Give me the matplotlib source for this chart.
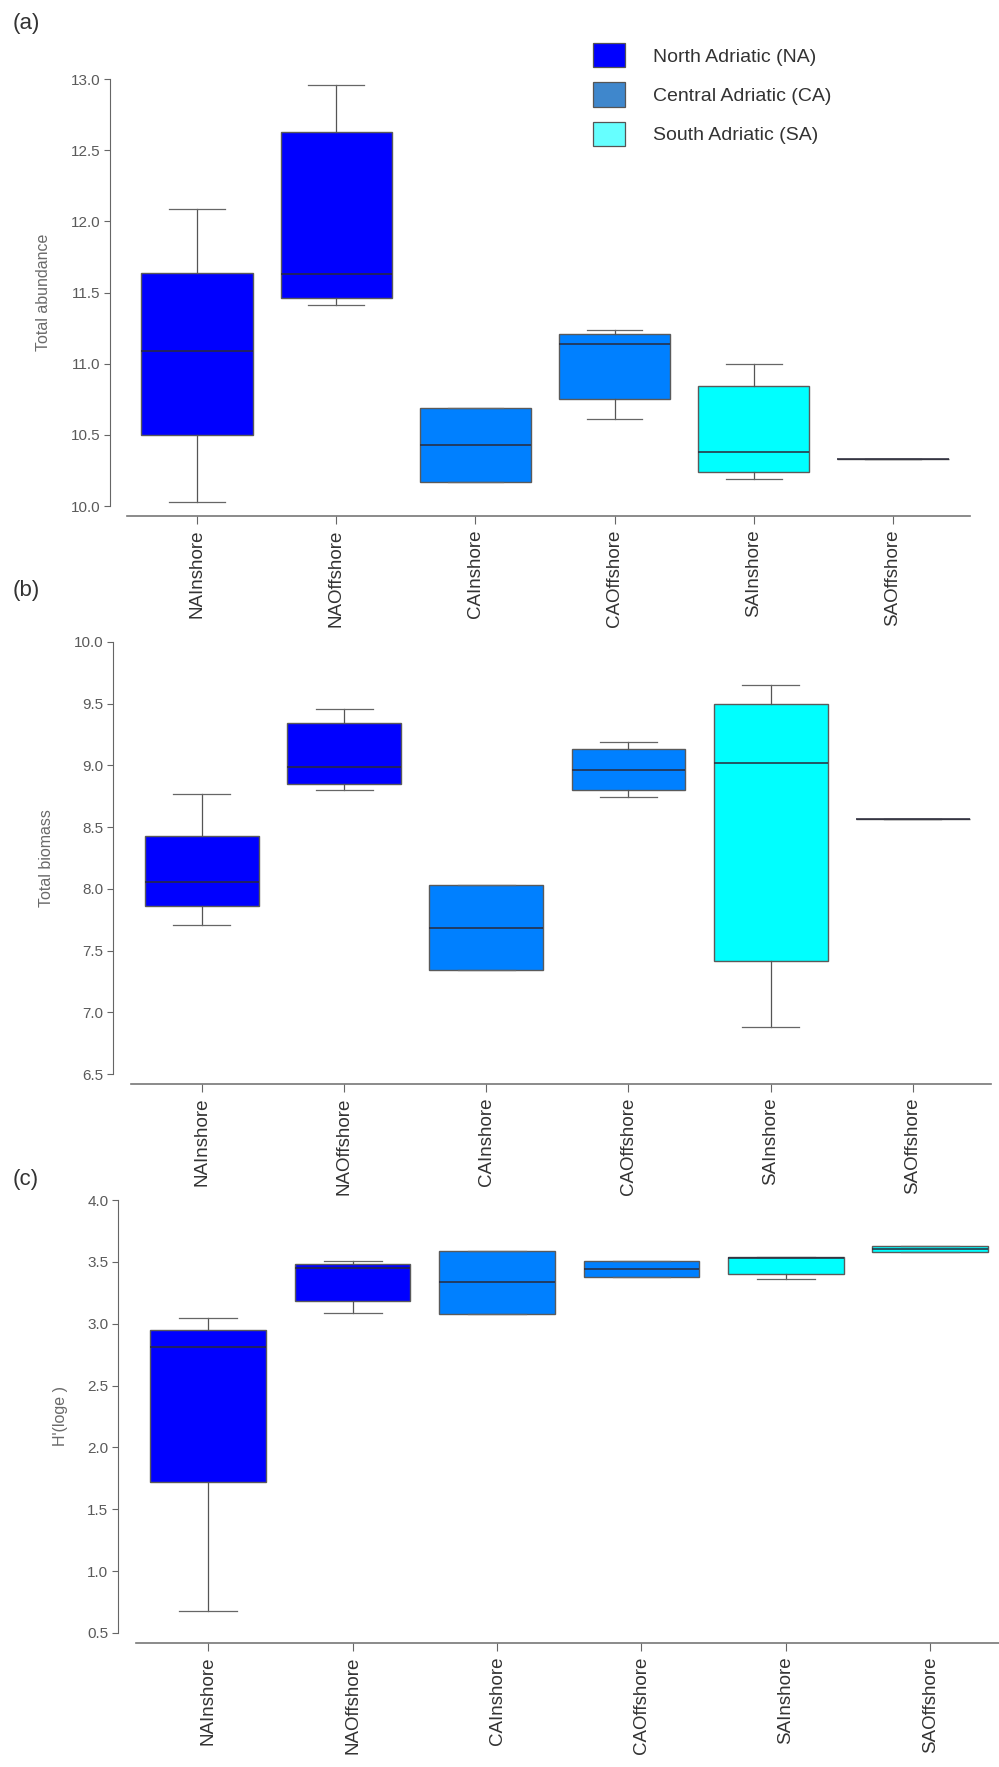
import numpy as np
import matplotlib
matplotlib.use("Agg")
import matplotlib.pyplot as plt
from matplotlib.patches import Patch

plt.rcParams['font.family'] = ['Liberation Sans', 'DejaVu Sans']

sites = ['NAInshore', 'NAOffshore', 'CAInshore', 'CAOffshore', 'SAInshore', 'SAOffshore']
box_colors = ['#0000ff', '#0000ff', '#0080ff', '#0080ff', '#00ffff', '#00ffff']

# values: whisker low, q1, median, q3, whisker high
abund_lo  = [10.03, 11.41, 10.17, 10.61, 10.19, 10.33]
abund_q1  = [10.50, 11.46, 10.17, 10.75, 10.24, 10.33]
abund_med = [11.09, 11.63, 10.43, 11.14, 10.38, 10.33]
abund_q3  = [11.64, 12.63, 10.69, 11.21, 10.84, 10.33]
abund_hi  = [12.09, 12.96, 10.69, 11.24, 11.00, 10.33]

biom_lo  = [7.71, 8.80, 7.34, 8.745, 6.88, 8.57]
biom_q1  = [7.86, 8.85, 7.34, 8.80, 7.415, 8.57]
biom_med = [8.055, 8.99, 7.685, 8.96, 9.02, 8.57]
biom_q3  = [8.43, 9.34, 8.03, 9.13, 9.495, 8.57]
biom_hi  = [8.77, 9.46, 8.03, 9.19, 9.65, 8.57]

div_lo  = [0.68, 3.09, 3.076, 3.38, 3.36, 3.582]
div_q1  = [1.72, 3.18, 3.076, 3.38, 3.404, 3.582]
div_med = [2.81, 3.448, 3.335, 3.44, 3.535, 3.606]
div_q3  = [2.95, 3.485, 3.59, 3.504, 3.54, 3.63]
div_hi  = [3.046, 3.504, 3.59, 3.504, 3.54, 3.63]

legend_labels = ['North Adriatic (NA)', 'Central Adriatic (CA)', 'South Adriatic (SA)']
legend_colors = ['#0000ff', '#3f87cc', '#66ffff']

W, H = 999, 1767
fig = plt.figure(figsize=(W / 100, H / 100), dpi=100)


def px_axes(left, top, width, height):
    return fig.add_axes([left / W, 1 - (top + height) / H, width / W, height / H])


def panel(left, top, bottom, spacing, lo, q1, med, q3, hi, ylim, yticks, ylabel, tag, tag_y):
    width = 6.175 * spacing
    ax = px_axes(left, top, width, bottom - top)
    stats = []
    for i in range(len(sites)):
        stats.append(dict(whislo=lo[i], q1=q1[i], med=med[i], q3=q3[i], whishi=hi[i], fliers=[]))
    res = ax.bxp(stats, positions=np.arange(len(sites)), widths=0.8, patch_artist=True,
                 boxprops=dict(edgecolor='#5a5a5a', linewidth=1.0),
                 medianprops=dict(color='#2a2a3a', linewidth=1.1),
                 whiskerprops=dict(color='#555555', linewidth=0.9),
                 capprops=dict(color='#666666', linewidth=0.9))
    for b, c in zip(res['boxes'], box_colors):
        b.set_facecolor(c)
    # spine position first: moving a spine resets the tick objects
    for s in ['top', 'right']:
        ax.spines[s].set_visible(False)
    ax.spines['left'].set_color('#666666')
    ax.spines['bottom'].set_color('#777777')
    ax.spines['bottom'].set_linewidth(1.2)
    ax.spines['bottom'].set_position(('outward', 7))
    ax.spines['bottom'].set_bounds(-0.5, 5.55)
    ax.set_xlim(-0.625, 5.55)
    ax.set_ylim(*ylim)
    ax.set_yticks(yticks)
    ax.set_yticklabels(['%.1f' % v for v in yticks])
    ax.set_xticks(np.arange(len(sites)))
    ax.set_xticklabels(sites, rotation=90, fontsize=13.5, color='#333333')
    ax.tick_params(axis='y', length=4, width=0.8, color='#666666', pad=3,
                   labelsize=11, labelcolor='#5a5a5a')
    ax.tick_params(axis='x', length=6, width=0.8, color='#666666', pad=4)
    ax.set_ylabel(ylabel, fontsize=11.5, color='#6a6a6a', labelpad=14)
    fig.text(13 / W, 1 - tag_y / H, tag, fontsize=16, color='#333333', va='center', ha='left')
    return ax


ax_a = panel(110, 79, 506, 139.2, abund_lo, abund_q1, abund_med, abund_q3, abund_hi,
             (10.0, 13.0), np.arange(10.0, 13.01, 0.5), 'Total abundance', '(a)', 24)
ax_b = panel(113, 642, 1074, 142.2, biom_lo, biom_q1, biom_med, biom_q3, biom_hi,
             (6.5, 10.0), np.arange(6.5, 10.01, 0.5), 'Total biomass', '(b)', 590)
ax_c = panel(118, 1200, 1633, 144.4, div_lo, div_q1, div_med, div_q3, div_hi,
             (0.5, 4.0), np.arange(0.5, 4.01, 0.5), "H'(loge )", '(c)', 1180)

handles = [Patch(facecolor=c, edgecolor='#555555', linewidth=0.9) for c in legend_colors]
fs = 14
fspx = fs * 100 / 72
fig.legend(handles, legend_labels, loc='upper left', bbox_to_anchor=(593 / W, 1 - 43 / H),
           frameon=False, borderpad=0, borderaxespad=0, fontsize=fs,
           handlelength=32 / fspx, handleheight=30 / fspx,
           handletextpad=28 / fspx, labelspacing=15 / fspx, labelcolor='#333333')

fig.savefig('out.png', dpi=100)
